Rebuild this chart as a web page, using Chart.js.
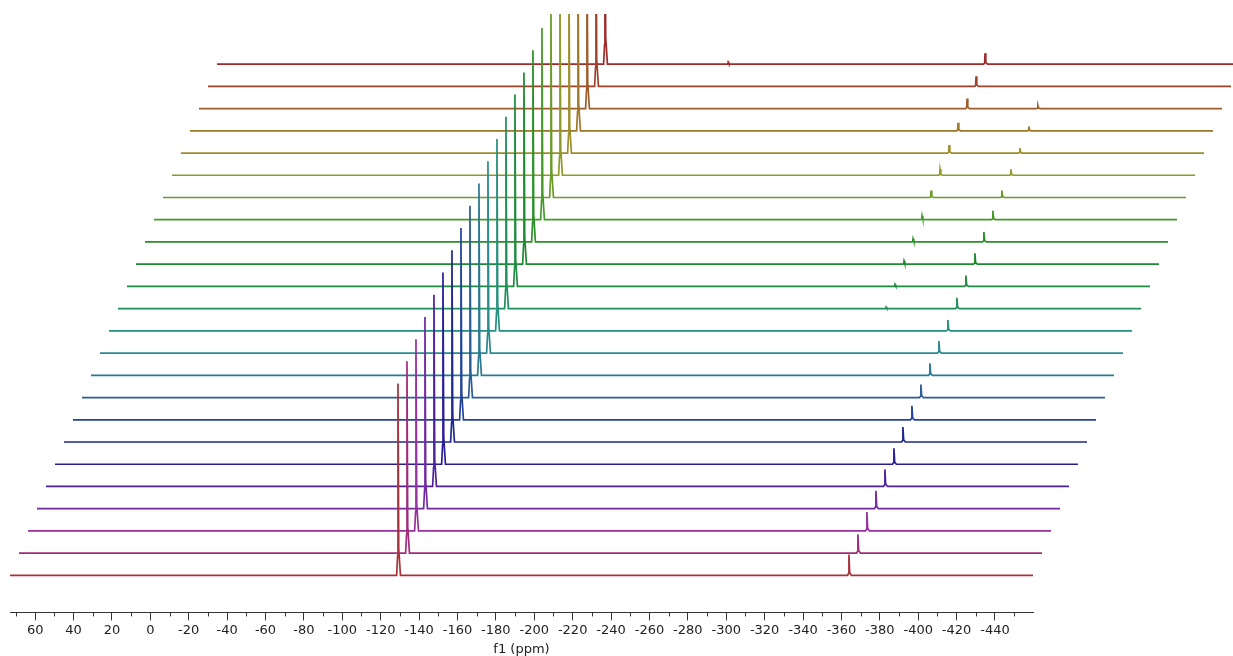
<!DOCTYPE html>
<html>
<head>
<meta charset="utf-8">
<script src="https://cdn.jsdelivr.net/npm/chart.js@4.4.1/dist/chart.umd.min.js"></script>
<style>
  html, body { margin: 0; padding: 0; background: #fff; }
  #wrap { width: 1233px; height: 656px; }
</style>
</head>
<body>
<div id="wrap"><canvas id="stack" width="1233" height="656"></canvas></div>
<script>
// spectra, bottom (first) to top (last)
const traceCount = 24;
const ppmStart = 73.1;
const ppmEnd = -459.8;

// main resonance, same shift in every spectrum (relative intensity 100)
const mainPeakPpm = -129.0;
const mainPeakHeights = [100, 100, 100, 100, 100, 100, 100, 100, 100, 100, 100, 100,
                         100, 100, 100, 100, 100, 100, 100, 100, 100, 100, 100, 100];

// small resonance at -363.9 ppm, fading towards the top
const peakAPpm = -363.9;
const peakAHeights = [10.9, 9.9, 9.9, 9.4, 8.9, 8.3, 7.8, 7.3, 6.8, 6.3, 6.3, 5.7,
                      5.7, 5.7, 5.7, 5.2, 4.7, 3.6, 3.1, 2.6, 2.3, 1.6, 0, 0];

// second small resonance at -327.0 ppm, growing towards the top
const peakBPpm = -327.0;
const peakBHeights = [0, 0, 0, 0, 0, 0, 0, 0, 0, 0, 0, 0,
                      0.8, 1.0, 1.6, 1.6, 2.1, 3.6, 3.1, 4.2, 4.2, 5.2, 5.2, 5.7];

// tiny impurity in the last spectrum
const peakCPpm = -193.2;
const peakCHeights = [0, 0, 0, 0, 0, 0, 0, 0, 0, 0, 0, 0,
                      0, 0, 0, 0, 0, 0, 0, 0, 0, 0, 0, 1.0];

const traceColors = [
  '#a8323a', '#a02c7c', '#9830a0', '#7228a0', '#4e20a0', '#281c98',
  '#1e2890', '#24449a', '#2a5c96', '#2a7892', '#2a8a8e', '#26907e',
  '#20905a', '#1e8c40', '#1e8a30', '#2a9028', '#449a28', '#6c9a28',
  '#8e9a28', '#9c8e28', '#9c782a', '#9e5c2a', '#a0422a', '#a02a2a'
];

const xTicks = [60, 40, 20, 0, -20, -40, -60, -80, -100, -120, -140, -160, -180, -200,
                -220, -240, -260, -280, -300, -320, -340, -360, -380, -400, -420, -440];
const xMinorTicks = [70, 50, 30, 10, -10, -30, -50, -70, -90, -110, -130, -150, -170,
                     -190, -210, -230, -250, -270, -290, -310, -330, -350, -370, -390,
                     -410, -430, -450];

// stacking of the plot (horizontal shift in ppm, vertical in intensity units)
const rowShiftPpm = 4.6875;
const rowStep = 11.59;
const rowBase = 19.3;
const yMax = 312;

// simple peak outline
const shapeOffsets = [0.7, 0.2, 0, -0.4, -1.3];
const shapeFractions = [0, 0.1, 1, 0.14, 0];

function buildTrace(k) {
  const shift = -k * rowShiftPpm;
  const base = rowBase + k * rowStep;
  const peaks = [
    [mainPeakPpm, mainPeakHeights[k]],
    [peakCPpm, peakCHeights[k]],
    [peakBPpm, peakBHeights[k]],
    [peakAPpm, peakAHeights[k]]
  ].filter(p => p[1] > 0).sort((a, b) => b[0] - a[0]);

  const pts = [{ x: ppmStart + shift, y: base }];
  peaks.forEach(([ppm, h]) => {
    shapeOffsets.forEach((o, i) => {
      pts.push({ x: ppm + o + shift, y: base + h * shapeFractions[i] });
    });
  });
  pts.push({ x: ppmEnd + shift, y: base });
  return pts;
}

const datasets = [];
for (let k = 0; k < traceCount; k++) {
  datasets.push({
    data: buildTrace(k),
    borderColor: traceColors[k],
    borderWidth: 1.7,
    pointRadius: 0,
    tension: 0,
    fill: false,
    clip: { left: false, right: false, top: 0, bottom: false }
  });
}

const minorTicks = {
  id: 'minorTicks',
  afterDraw(chart) {
    const sc = chart.scales.x;
    const ctx = chart.ctx;
    ctx.save();
    ctx.strokeStyle = '#333';
    ctx.lineWidth = 1;
    ctx.beginPath();
    xMinorTicks.forEach(v => {
      const px = Math.round(sc.getPixelForValue(v)) + 0.5;
      ctx.moveTo(px, sc.top);
      ctx.lineTo(px, sc.top + 4);
    });
    ctx.stroke();
    ctx.restore();
  }
};

new Chart(document.getElementById('stack'), {
  type: 'line',
  data: { datasets: datasets },
  options: {
    responsive: false,
    animation: false,
    events: [],
    layout: { padding: { left: 10, right: 200, top: 14, bottom: 0 } },
    plugins: { legend: { display: false }, tooltip: { enabled: false } },
    scales: {
      x: {
        type: 'linear',
        reverse: true,
        min: ppmEnd,
        max: ppmStart,
        afterBuildTicks: (scale) => {
          scale.ticks = xTicks.map(v => ({ value: v }));
        },
        grid: { drawOnChartArea: false, tickLength: 8, color: '#333' },
        border: { color: '#333', width: 1 },
        ticks: {
          autoSkip: false,
          maxRotation: 0,
          padding: 2,
          color: '#222',
          font: { family: 'DejaVu Sans', size: 13 },
          callback: (v) => String(v)
        },
        title: {
          display: true,
          text: 'f1 (ppm)',
          color: '#222',
          font: { family: 'DejaVu Sans', size: 13, lineHeight: 1.0 },
          padding: { top: 3, bottom: 0 }
        }
      },
      y: { display: false, min: 0, max: yMax }
    }
  },
  plugins: [minorTicks]
});
</script>
</body>
</html>
